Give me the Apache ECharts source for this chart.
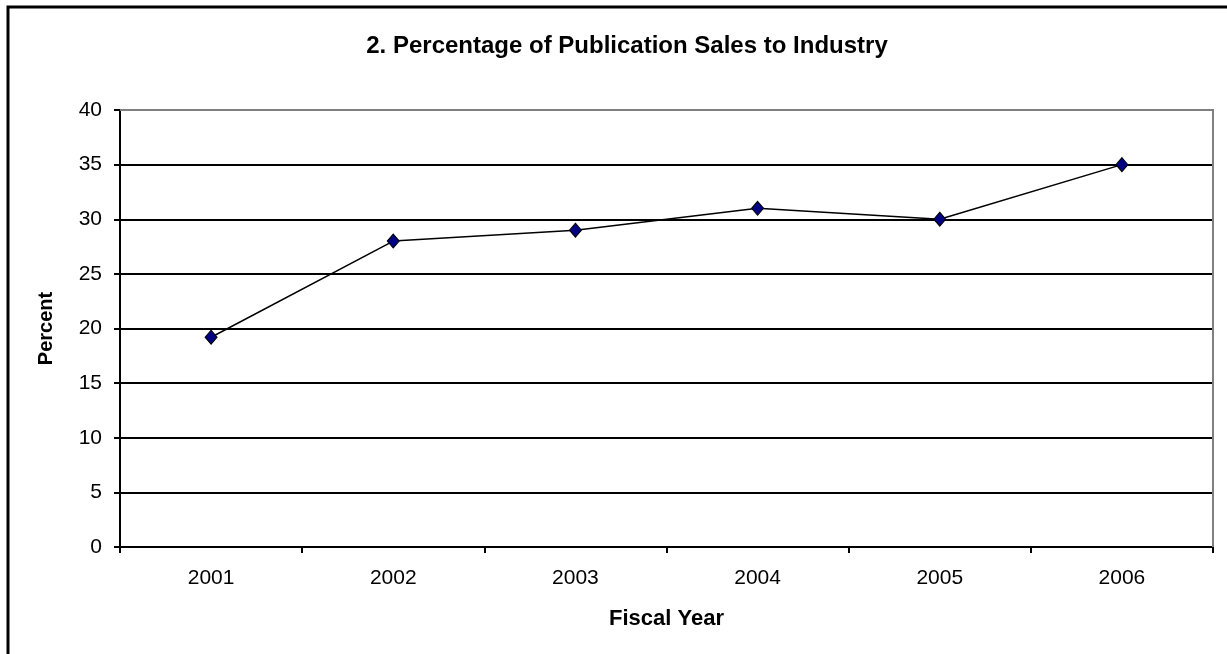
<!DOCTYPE html>
<html>
<head>
<meta charset="utf-8">
<script src="https://cdn.jsdelivr.net/npm/echarts@6/dist/echarts.min.js"></script>
<style>
  html, body { margin: 0; padding: 0; background: #fff; }
  #chart { width: 1227px; height: 654px; }
</style>
</head>
<body>
<div id="chart"></div>
<script>
const years = ['2001', '2002', '2003', '2004', '2005', '2006']
const percent = [19.2, 28, 29, 31, 30, 35]

const font = 'Liberation Sans, Arial, sans-serif'
const chart = echarts.init(document.getElementById('chart'))

const option = {
  backgroundColor: '#fff',
  animation: false,
  title: {
    text: '2. Percentage of Publication Sales to Industry',
    left: 622,
    textAlign: 'center',
    top: 29,
    textStyle: { fontFamily: font, fontSize: 24, fontWeight: 'bold', color: '#000' }
  },
  graphic: [
    {
      // outer chart frame (only top and left edges visible)
      type: 'rect',
      shape: { x: 8, y: 7, width: 1400, height: 800 },
      style: { fill: 'none', stroke: '#000', lineWidth: 3 },
      z: 0
    },
    {
      // plot area border (grey, top and right)
      type: 'polyline',
      shape: { points: [[120, 110], [1213, 110], [1213, 547]] },
      style: { fill: 'none', stroke: '#808080', lineWidth: 2 },
      z: 1
    }
  ],
  grid: { left: 120, right: 14, top: 110, bottom: 107 },
  xAxis: {
    type: 'category',
    data: years,
    boundaryGap: true,
    name: 'Fiscal Year',
    nameLocation: 'middle',
    nameGap: 61,
    nameTextStyle: { fontFamily: font, fontSize: 22, fontWeight: 'bold', color: '#000' },
    axisLine: { lineStyle: { color: '#000', width: 2 } },
    axisTick: { show: true, alignWithLabel: false, length: 6, lineStyle: { color: '#000', width: 2 } },
    axisLabel: { fontFamily: font, fontSize: 21, color: '#000', margin: 21 },
    splitLine: { show: false }
  },
  yAxis: {
    type: 'value',
    min: 0,
    max: 40,
    interval: 5,
    name: 'Percent',
    nameLocation: 'middle',
    nameGap: 64,
    nameTextStyle: { fontFamily: font, fontSize: 20, fontWeight: 'bold', color: '#000' },
    axisLine: { show: true, lineStyle: { color: '#000', width: 2 } },
    axisTick: { show: true, length: 6, lineStyle: { color: '#000', width: 2 } },
    axisLabel: { fontFamily: font, fontSize: 21, color: '#000', margin: 18 },
    splitLine: { show: true, lineStyle: { color: '#000', width: 2 } }
  },
  series: [
    {
      type: 'line',
      data: percent,
      symbol: 'diamond',
      symbolSize: [12, 14],
      itemStyle: { color: '#000080', borderColor: '#000', borderWidth: 1 },
      lineStyle: { color: '#000', width: 1.5 },
      z: 5
    }
  ]
}

chart.setOption(option)
</script>
</body>
</html>
